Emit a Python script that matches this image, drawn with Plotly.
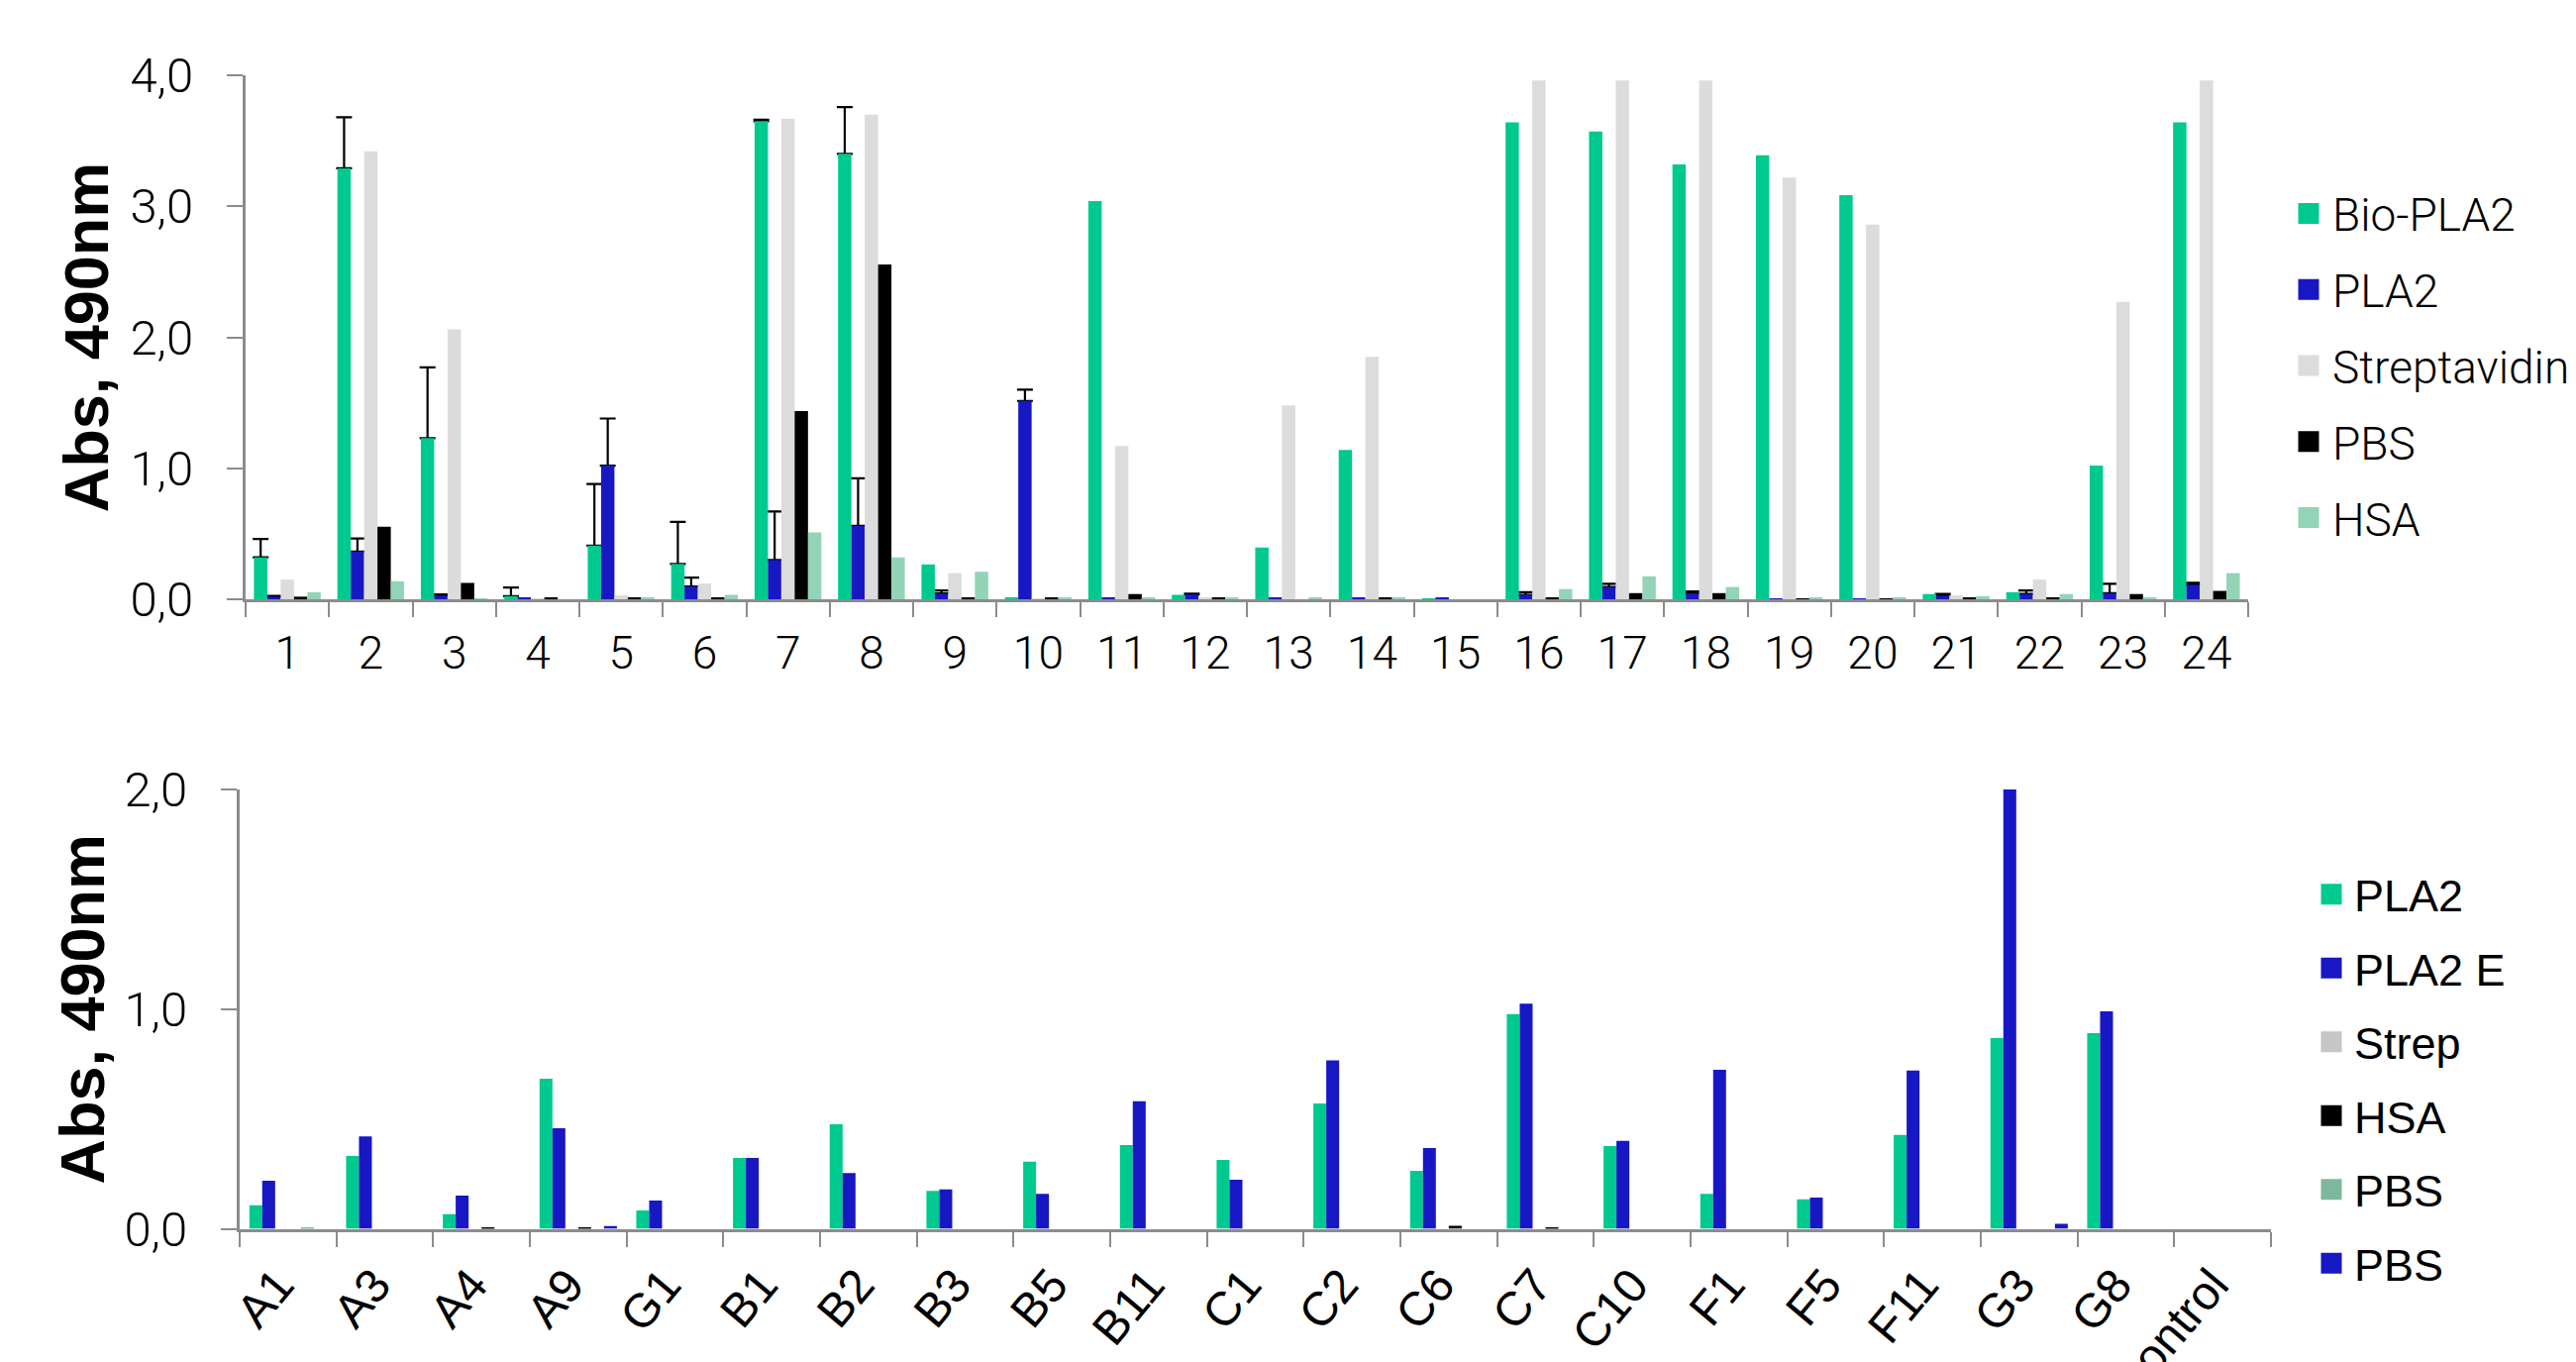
import plotly.graph_objects as go

# ---------------- data: top panel ----------------
top_cats = [str(i) for i in range(1, 25)]
bio_pla2 = [0.32, 3.29, 1.23, 0.024, 0.41, 0.27, 3.65, 3.40, 0.266, 0.01, 3.04, 0.034,
            0.395, 1.14, 0.005, 3.64, 3.57, 3.32, 3.39, 3.086, 0.04, 0.054, 1.02, 3.64]
bio_pla2_err = [0.14, 0.39, 0.54, 0.066, 0.47, 0.32, 0.01, 0.357, None, None, None, None,
                None, None, None, None, None, None, None, None, None, None, None, None]
pla2 = [0.02, 0.364, 0.027, 0.01, 1.02, 0.098, 0.30, 0.56, 0.044, 1.514, 0.01, 0.037,
        0.01, 0.01, 0.01, 0.034, 0.094, 0.044, 0.005, 0.005, 0.027, 0.04, 0.047, 0.11]
pla2_err = [0.005, 0.10, 0.01, None, 0.36, 0.067, 0.37, 0.364, 0.023, 0.086, None, 0.005,
            None, None, None, 0.02, 0.024, 0.016, None, None, 0.013, 0.027, 0.071, 0.015]
streptavidin = [0.15, 3.42, 2.06, 0.005, 0.03, 0.12, 3.67, 3.70, 0.20, 0.005, 1.17, 0.01,
                1.48, 1.85, 0.0, 3.96, 3.96, 3.96, 3.22, 2.86, 0.03, 0.15, 2.27, 3.96]
pbs_top = [0.02, 0.553, 0.125, 0.008, 0.01, 0.01, 1.437, 2.556, 0.01, 0.01, 0.04, 0.01,
           0.0, 0.01, 0.0, 0.01, 0.047, 0.047, 0.005, 0.005, 0.01, 0.01, 0.04, 0.064]
hsa_top = [0.054, 0.138, 0.007, 0.0, 0.01, 0.034, 0.51, 0.32, 0.21, 0.01, 0.01, 0.01,
           0.01, 0.01, 0.0, 0.078, 0.175, 0.094, 0.01, 0.01, 0.024, 0.04, 0.01, 0.20]
top_yticks = [0, 1, 2, 3, 4]

# ---------------- data: bottom panel ----------------
bot_cats = ["A1", "A3", "A4", "A9", "G1", "B1", "B2", "B3", "B5", "B11", "C1",
            "C2", "C6", "C7", "C10", "F1", "F5", "F11", "G3", "G8", "Control"]
b_pla2 = [0.107, 0.332, 0.066, 0.683, 0.083, 0.322, 0.476, 0.173, 0.305, 0.381, 0.313,
          0.571, 0.264, 0.977, 0.377, 0.159, 0.134, 0.427, 0.868, 0.891, None]
b_pla2_e = [0.219, 0.421, 0.151, 0.458, 0.128, 0.322, 0.254, 0.179, 0.159, 0.581, 0.223,
            0.767, 0.367, 1.025, 0.40, 0.724, 0.142, 0.720, 2.0, 0.990, None]
b_strep = [0.0, 0.0, 0.0, 0.0, 0.0, 0.0, 0.0, 0.0, 0.0, 0.0, 0.0,
           0.0, 0.0, 0.0, 0.0, 0.0, 0.0, 0.0, 0.0, 0.0, None]
b_hsa = [0.0, 0.0, 0.005, 0.005, 0.0, 0.0, 0.0, 0.0, 0.0, 0.0, 0.0,
         0.0, 0.013, 0.004, 0.0, 0.0, 0.0, 0.0, 0.0, 0.0, None]
b_pbs = [0.005, 0.0, 0.0, 0.0, 0.0, 0.0, 0.0, 0.0, 0.0, 0.0, 0.0,
         0.0, 0.0, 0.0, 0.0, 0.0, 0.0, 0.0, 0.0, 0.0, None]
b_pbs2 = [0.0, 0.0, 0.0, 0.012, 0.0, 0.0, 0.0, 0.0, 0.0, 0.0, 0.0,
          0.0, 0.0, 0.0, 0.0, 0.0, 0.0, 0.0, 0.022, 0.0, None]
bot_yticks = [0, 1, 2]

# ---------------- styles ----------------
GREEN = "#00C98F"
BLUE = "#1717C4"
STREP = "#DCDCDC"
STREP2 = "#C6C6C6"
BLACK = "#000000"
HSA = "#93D4B7"
PBSG = "#7DB89C"
AXIS = "#8C8C8C"

LIGHT = "Roboto, Lato, 'Open Sans', sans-serif"
REG = "'Liberation Sans', Arial, sans-serif"

fig = go.Figure()

top_series = [
    ("Bio-PLA2", bio_pla2, GREEN, "t1"),
    ("PLA2", pla2, BLUE, "t2"),
    ("Streptavidin", streptavidin, STREP, "t3"),
    ("PBS", pbs_top, BLACK, "t4"),
    ("HSA", hsa_top, HSA, "t5"),
]

# error-bar carriers (drawn first, so the bars hide the lower cap);
# only the points that carry an error bar are kept
for vals, errs, grp in [(bio_pla2, bio_pla2_err, "t1"), (pla2, pla2_err, "t2")]:
    carrier_y = [v if e is not None else None for v, e in zip(vals, errs)]
    fig.add_trace(go.Bar(
        x=top_cats, y=carrier_y, offsetgroup=grp, xaxis="x", yaxis="y",
        marker=dict(color="rgba(0,0,0,0)", line=dict(width=0)),
        error_y=dict(type="data", symmetric=False, array=errs,
                     arrayminus=[0 if e is not None else None for e in errs],
                     color=BLACK, thickness=2.2, width=8),
        showlegend=False, hoverinfo="skip"))

for name, vals, col, grp in top_series:
    fig.add_trace(go.Bar(
        x=top_cats, y=vals, name=name, offsetgroup=grp, xaxis="x", yaxis="y",
        marker=dict(color=col, line=dict(width=0)), showlegend=False))

bot_series = [
    ("PLA2", b_pla2, GREEN, "b1"),
    ("PLA2 E", b_pla2_e, BLUE, "b2"),
    ("Strep", b_strep, STREP2, "b3"),
    ("HSA", b_hsa, BLACK, "b4"),
    ("PBS", b_pbs, PBSG, "b5"),
    ("PBS", b_pbs2, BLUE, "b6"),
]
for name, vals, col, grp in bot_series:
    fig.add_trace(go.Bar(
        x=bot_cats, y=vals, name=name, offsetgroup=grp, xaxis="x2", yaxis="y2",
        marker=dict(color=col, line=dict(width=0)), showlegend=False))

# legend entries
for i, (name, vals, col, grp) in enumerate(top_series):
    fig.add_trace(go.Scatter(
        x=[None], y=[None], mode="markers", name=name, xaxis="x", yaxis="y",
        legend="legend", legendgroup="lt%d" % i,
        marker=dict(symbol="square", size=16, color=col, line=dict(color=col, width=5))))
for i, (name, vals, col, grp) in enumerate(bot_series):
    fig.add_trace(go.Scatter(
        x=[None], y=[None], mode="markers", name=name, xaxis="x2", yaxis="y2",
        legend="legend2", legendgroup="lb%d" % i,
        marker=dict(symbol="square", size=16, color=col, line=dict(color=col, width=5))))

W, H = 2601, 1375

axis_common = dict(showline=True, linecolor=AXIS, linewidth=3, ticks="outside",
                   tickcolor=AXIS, tickwidth=2, showgrid=False, zeroline=False)

fig.update_layout(
    width=W, height=H,
    margin=dict(l=0, r=0, t=0, b=0, autoexpand=False),
    paper_bgcolor="white", plot_bgcolor="white",
    separators=", ",
    barmode="group", bargap=0.2, bargroupgap=0,
    xaxis=dict(axis_common, domain=[240 / W, 2262 / W], anchor="y", type="category",
               tickson="boundaries", ticklen=15, ticklabelstandoff=12,
               tickfont=dict(family=LIGHT, size=46, color="black", weight=300)),
    yaxis=dict(axis_common, domain=[(H - 597) / H, (H - 68) / H], anchor="x",
               range=[0, 4], tickvals=top_yticks, tickformat=".1f", ticklen=16,
               ticklabelstandoff=24,
               tickfont=dict(family=LIGHT, size=49, color="black", weight=300),
               title=dict(text="Abs, 490nm", standoff=2,
                          font=dict(family=REG, size=63, color="black", weight="bold"))),
    xaxis2=dict(axis_common, domain=[234 / W, 2285 / W], anchor="y2", type="category",
                tickson="boundaries", ticklen=15, tickangle=-50, ticklabelstandoff=6,
                ticklabelshift=-10,
                tickfont=dict(family=REG, size=48, color="black")),
    yaxis2=dict(axis_common, domain=[(H - 1232.5) / H, (H - 789) / H], anchor="x2",
                range=[0, 2], tickvals=bot_yticks, tickformat=".1f", ticklen=16,
                ticklabelstandoff=24,
                tickfont=dict(family=LIGHT, size=49, color="black", weight=300),
                title=dict(text="Abs, 490nm", standoff=0,
                           font=dict(family=REG, size=63, color="black", weight="bold"))),
    legend=dict(x=2299 / W, xanchor="left", y=1 - 361 / H, yanchor="middle",
                bgcolor="rgba(0,0,0,0)", borderwidth=0, itemwidth=38,
                traceorder="grouped", tracegroupgap=14,
                font=dict(family=LIGHT, size=46, color="black", weight=300)),
    legend2=dict(x=2323 / W, xanchor="left", y=1 - 1081 / H, yanchor="middle",
                 bgcolor="rgba(0,0,0,0)", borderwidth=0, itemwidth=36,
                 traceorder="grouped", tracegroupgap=13,
                 font=dict(family=REG, size=45, color="black")),
)

fig.write_html("out.html")
